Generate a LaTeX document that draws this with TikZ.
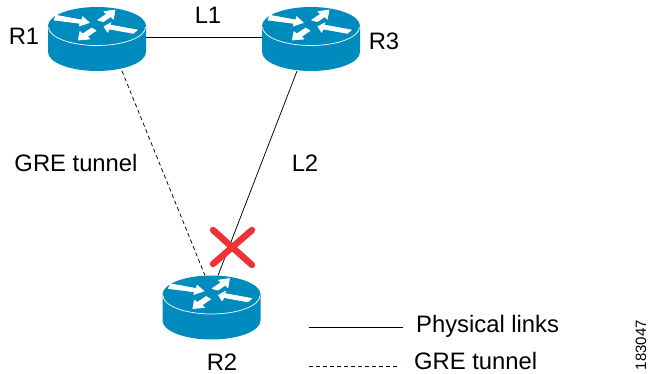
\documentclass[tikz,border=0pt]{standalone}
\usepackage{fontspec}
\setmainfont{Liberation Sans}
\definecolor{routerblue}{HTML}{008BBF}
\definecolor{crossred}{HTML}{EE3338}
\tikzset{
  routerbox/.style={minimum width=98pt,minimum height=64pt,inner sep=0pt,outer sep=0pt},
  lbl/.style={inner sep=0pt,font=\fontsize{23.8}{28}\selectfont},
  link/.style={draw=black,line width=0.75pt},
  tunnel/.style={draw=black,line width=0.75pt,dash pattern=on 4pt off 3pt},
  crossline/.style={draw=crossred,line width=6.5pt,line cap=round},
  arrowfill/.style={fill=white,draw=white,line width=0.7pt,line join=round}
}
\newcommand{\routerdraw}[1]{%
  \begin{scope}[shift={(#1.north)},yshift=-19pt]
    \fill[routerblue] (-49pt,0pt) -- (-49pt,-26pt) arc[start angle=180,end angle=360,x radius=49pt,y radius=19pt] -- (49pt,0pt) arc[start angle=0,end angle=180,x radius=49pt,y radius=19pt] -- cycle;
    \draw[white,line width=0.7pt] (-48.5pt,-1pt) arc[start angle=180,end angle=360,x radius=48.5pt,y radius=18.5pt];
    \begin{scope}[x=0.3333pt,y=-0.3333pt]
      \path[arrowfill] (-123,-32) -- (-46,-18) -- (-43,-28) -- (-23,-10) -- (-53,0) -- (-51,-8) -- (-129,-18) -- cycle;
      \path[arrowfill] (54,-48) -- (21,-43) -- (29,-36) -- (2,-18) -- (19,-13) -- (41,-28) -- (49,-20) -- cycle;
      \path[arrowfill] (21,2) -- (42,-10) -- (39,-3) -- (121,12) -- (109,22) -- (37,9) -- (32,19) -- cycle;
      \path[arrowfill] (-56,42) -- (-51,17) -- (-43,24) -- (-16,6) -- (-3,14) -- (-29,32) -- (-21,39) -- cycle;
    \end{scope}
  \end{scope}}
\begin{document}
\begin{tikzpicture}[x=1pt,y=-1pt]
  \useasboundingbox (0,0) rectangle (649,374);
  \node[routerbox] (R1) at (97,39) {};
  \node[routerbox] (R3) at (311,39) {};
  \node[routerbox] (R2) at (211.5,307.5) {};
  \draw[link] ([yshift=2pt]R1.east) -- ([yshift=2pt]R3.west);
  \draw[link] ([xshift=-14pt]R3.south) -- ([xshift=6.5pt]R2.north);
  \draw[tunnel] ([xshift=25pt]R1.south) -- ([xshift=-6.5pt]R2.north);
  \routerdraw{R1}
  \routerdraw{R3}
  \routerdraw{R2}
  \coordinate (xa) at (213,230);
  \coordinate (xb) at (252,265);
  \coordinate (xc) at (252,230);
  \coordinate (xd) at (213,264);
  \draw[crossline] (xa) -- (xb);
  \draw[crossline] (xc) -- (xd);
  \node[lbl] (tR1) at (24,36) {R1};
  \node[lbl] (tR3) at (384,41) {R3};
  \node[lbl] (tL1) at (208,15) {L1};
  \node[lbl] (tL2) at (305,163) {L2};
  \node[lbl] (tGRE) at (76,163) {GRE tunnel};
  \node[lbl] (tR2) at (222,362) {R2};
  \coordinate (pa) at (309,327);
  \coordinate (pb) at (403,327);
  \node[lbl,anchor=west] (tPhys) at (416,326) {Physical links};
  \draw[link] (pa) -- (pb);
  \coordinate (ga) at (309,366);
  \coordinate (gb) at (400,366);
  \node[lbl,anchor=west] (tLeg) at (414,361) {GRE tunnel};
  \draw[tunnel] (ga) -- (gb);
  \node[inner sep=0pt,rotate=90,font=\fontsize{15}{18}\selectfont] (tid) at (641,345) {183047};
\end{tikzpicture}
\end{document}
